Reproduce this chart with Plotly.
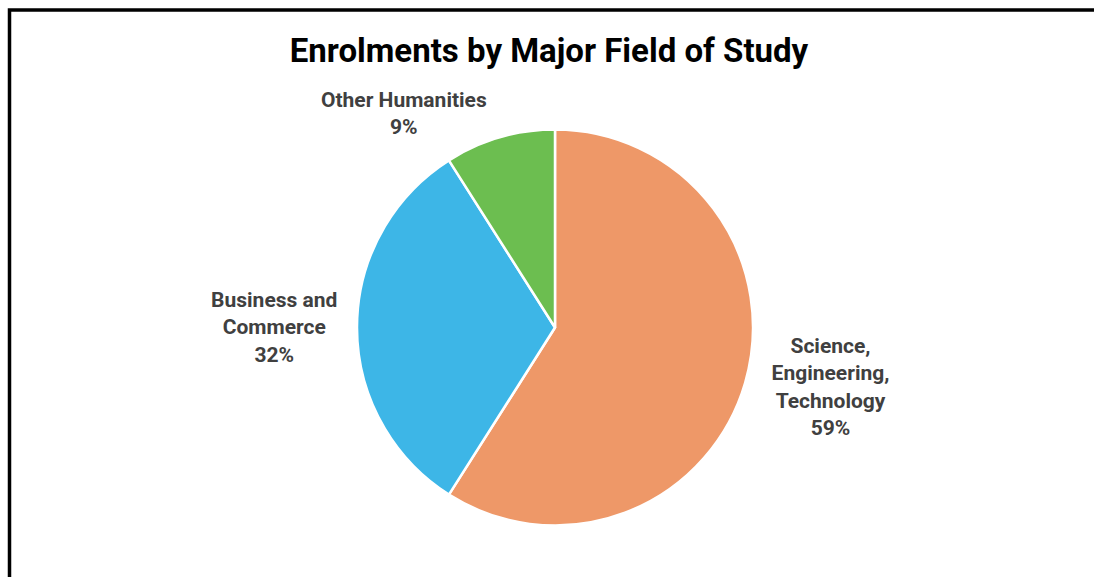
import plotly.graph_objects as go

categories = ["Science, Engineering, Technology", "Business and Commerce", "Other Humanities"]
display_labels = ["Science,<br>Engineering,<br>Technology", "Business and<br>Commerce", "Other Humanities"]
shares = [59, 32, 9]
colors = ["#EE9868", "#3DB6E7", "#6CBE50"]

W, H = 1094, 577
cx, cy, r = 555, 327.5, 198

fig = go.Figure(go.Pie(
    labels=categories,
    values=shares,
    text=display_labels,
    texttemplate="%{text}<br>%{percent:.0%}",
    textposition="outside",
    sort=False,
    direction="clockwise",
    rotation=0,
    marker=dict(colors=colors, line=dict(color="white", width=2.5)),
    outsidetextfont=dict(family="Roboto", size=21, color="#404040", weight="bold"),
    showlegend=False,
    hoverinfo="label+percent",
    domain=dict(x=[(cx - r) / W, (cx + r) / W], y=[(H - cy - r) / H, (H - cy + r) / H]),
))

fig.update_layout(
    width=W, height=H,
    margin=dict(l=0, r=0, t=0, b=0),
    paper_bgcolor="white",
    title=dict(text="<b>Enrolments by Major Field of Study</b>", x=549 / W, xanchor="center",
               y=1 - 50 / H, yanchor="middle",
               font=dict(family="Roboto", size=33, color="#000000")),
    shapes=[dict(type="rect", xref="paper", yref="paper",
                 x0=9.5 / W, x1=1.02, y0=-0.02, y1=1 - 10 / H,
                 line=dict(color="black", width=3.5), fillcolor="rgba(0,0,0,0)")],
)

fig.write_html("out.html")
